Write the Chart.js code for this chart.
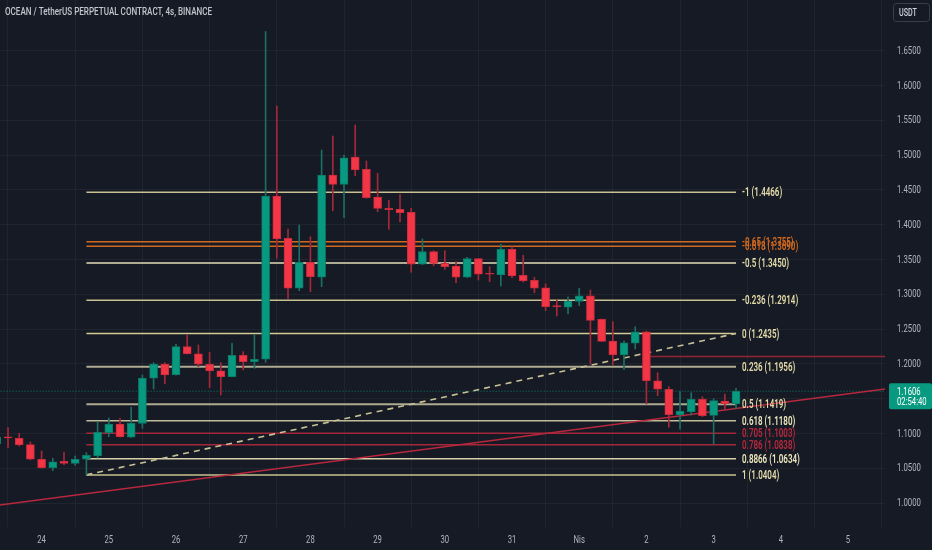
<!DOCTYPE html>
<html><head><meta charset="utf-8">
<script src="https://cdn.jsdelivr.net/npm/chart.js@4.4.0/dist/chart.umd.min.js"></script>
<style>html,body{margin:0;padding:0;background:#161a25;overflow:hidden}#wrap{width:932px;height:550px;position:relative}</style>
</head><body><div id="wrap"><canvas id="c" width="932" height="550"></canvas></div>
<script>
// ---- data ----
const candleIdx = [-4,-3,-2,-1,0,1,2,3,4,5,6,7,8,9,10,11,12,13,14,15,16,17,18,19,20,21,22,23,24,25,26,27,28,29,30,31,32,33,34,35,36,37,38,39,40,41,42,43,44,45,46,47,48,49,50,51,52,53,54,55,56,57,58,59,60,61,62];
const opens  = [1.0848,1.0950,1.0930,1.0838,1.0628,1.0507,1.0599,1.0570,1.0628,1.0675,1.1010,1.1135,1.0945,1.1145,1.1792,1.1997,1.1843,1.2246,1.2145,1.1993,1.1900,1.1815,1.2122,1.2030,1.2065,1.4411,1.3803,1.3085,1.3458,1.3243,1.4713,1.4579,1.4971,1.4794,1.4397,1.4239,1.4220,1.4177,1.3430,1.3614,1.3444,1.3405,1.3243,1.3510,1.3295,1.3276,1.3645,1.3272,1.3200,1.3093,1.2835,1.2812,1.2898,1.2978,1.2639,1.2328,1.2126,1.2295,1.2461,1.1757,1.1634,1.1269,1.1312,1.1490,1.1260,1.1466,1.1422];
const highs  = [1.0962,1.1082,1.1001,1.0876,1.0747,1.0642,1.0733,1.0675,1.0723,1.1168,1.1221,1.1217,1.1375,1.1839,1.2016,1.2016,1.2280,1.2414,1.2270,1.2165,1.2016,1.2295,1.2174,1.2414,1.6772,1.5704,1.3937,1.3994,1.3826,1.5072,1.5273,1.5000,1.5431,1.4914,1.4737,1.4349,1.4430,1.4234,1.3793,1.3625,1.3625,1.3467,1.3530,1.3515,1.3395,1.3717,1.3683,1.3559,1.3243,1.3147,1.2917,1.2964,1.3085,1.3060,1.2645,1.2605,1.2328,1.2533,1.2470,1.1872,1.1671,1.1599,1.1585,1.1527,1.1499,1.1566,1.1648];
const lows   = [1.0830,1.0795,1.0819,1.0620,1.0500,1.0464,1.0550,1.0542,1.0404,1.0647,1.0953,1.0945,1.0940,1.1073,1.1638,1.1714,1.1835,1.2140,1.1958,1.1657,1.1552,1.1810,1.1911,1.1935,1.2022,1.3516,1.2941,1.3050,1.3036,1.3108,1.4200,1.4099,1.4703,1.4380,1.4185,1.3932,1.4037,1.3315,1.3425,1.3409,1.3358,1.3165,1.3240,1.3204,1.3180,1.3118,1.3237,1.3175,1.3022,1.2763,1.2687,1.2716,1.2835,1.1997,1.2318,1.1983,1.1921,1.2213,1.1422,1.1542,1.1088,1.1059,1.1264,1.1240,1.0843,1.1346,1.1355];
const closes = [1.0948,1.0935,1.0833,1.0628,1.0507,1.0593,1.0570,1.0628,1.0685,1.1016,1.1135,1.0953,1.1145,1.1796,1.1997,1.1839,1.2246,1.2145,1.1993,1.1897,1.1815,1.2122,1.2030,1.2065,1.4411,1.3793,1.3085,1.3458,1.3251,1.4713,1.4579,1.4961,1.4784,1.4386,1.4234,1.4214,1.4171,1.3430,1.3614,1.3444,1.3395,1.3243,1.3510,1.3286,1.3286,1.3645,1.3261,1.3190,1.3085,1.2820,1.2820,1.2898,1.2978,1.2625,1.2323,1.2126,1.2303,1.2461,1.1757,1.1634,1.1269,1.1322,1.1490,1.1254,1.1470,1.1422,1.1606];

const dayTickIdx = [0,6,12,18,24,30,36,42,48,54,60,66,72];
const dayLabels  = ['24','25','26','27','28','29','30','31','Nis','2','3','4','5'];
const priceTicks = [1.0000,1.0500,1.1000,1.1500,1.2000,1.2500,1.3000,1.3500,1.4000,1.4500,1.5000,1.5500,1.6000,1.6500];

const fibRatios = ['-1','-0.65','-0.618','-0.5','-0.236','0','0.236','0.5','0.618','0.705','0.786','0.8866','1'];
const fibPrices = [1.4466,1.3755,1.3690,1.3450,1.2914,1.2435,1.1956,1.1419,1.1180,1.1003,1.0838,1.0634,1.0404];
const fibFrom = 4, fibTo = 62;

const dashedFrom = [4, 1.0404];
const dashedTo   = [62, 1.2435];
const trendFrom  = [-4, 0.9966];
const trendTo    = [76, 1.1652];
const hLinePrice = 1.2105, hLineFrom = 54;
const lastPrice = 1.1606;
const countdown = '02:54:40';
const titleText = 'OCEAN / TetherUS PERPETUAL CONTRACT, 4s, BINANCE';
const currency = 'USDT';

// ---- styles ----
const BG = '#161a25';
const UP = '#089981', DOWN = '#f23645';
const UP_WICK = '#1d6e64', DOWN_WICK = '#a3283a';
const UP_EDGE = '#0b7a68', DOWN_EDGE = '#c92c3d';
const FONT = 'Roboto,"Noto Sans",sans-serif';
const fibStyle = {
  '-1':['#c6c092',1.5,'#e4dca8'], '-0.65':['#d2691e',1.5,'#d2691e'], '-0.618':['#d2691e',1.5,'#d2691e'],
  '-0.5':['#aeab92',2,'#e4dca8'], '-0.236':['#c6c092',1.5,'#e4dca8'], '0':['#d2cb95',1.5,'#e4dca8'],
  '0.236':['#aeab92',2,'#e4dca8'], '0.5':['#aeab92',2,'#e4dca8'], '0.618':['#c0bc9a',1.5,'#ece6bc'],
  '0.705':['#a3263a',1.5,'#b8283d'], '0.786':['#a3263a',1.5,'#b8283d'], '0.8866':['#d6d0a8',1.5,'#ece6bc'],
  '1':['#c9c28e',1.5,'#e4dca8']
};

const isUp = closes.map((c,i)=>c>=opens[i]);
const bodyData = candleIdx.map((x,i)=>({x:x, y:[opens[i], closes[i]]}));
const wickData = candleIdx.map((x,i)=>({x:x, y:[lows[i], highs[i]]}));

const datasets = [
  {type:'bar', label:'body', data:bodyData, order:0, grouped:false, barThickness:8, minBarLength:1,
   backgroundColor:isUp.map(u=>u?UP:DOWN), borderColor:isUp.map(u=>u?UP_EDGE:DOWN_EDGE), borderWidth:1, borderSkipped:false},
  {type:'bar', label:'wick', data:wickData, order:1, grouped:false, barThickness:1,
   backgroundColor:isUp.map(u=>u?UP_WICK:DOWN_WICK)},
];
fibRatios.forEach((r,k)=>{
  const st = fibStyle[r];
  datasets.push({type:'line', label:'fib '+r, data:[{x:fibFrom,y:fibPrices[k]},{x:fibTo,y:fibPrices[k]}],
    borderColor:st[0], borderWidth:st[1], pointRadius:0, order:5});
});
datasets.push({type:'line', label:'dashed', data:[{x:dashedFrom[0],y:dashedFrom[1]},{x:dashedTo[0],y:dashedTo[1]}],
  borderColor:'#c8c196', borderWidth:1.6, borderDash:[6,5], pointRadius:0, order:4});
datasets.push({type:'line', label:'trend', data:[{x:trendFrom[0],y:trendFrom[1]},{x:trendTo[0],y:trendTo[1]}],
  borderColor:'#b8283d', borderWidth:1.5, pointRadius:0, order:4});
datasets.push({type:'line', label:'hline', data:[{x:hLineFrom,y:hLinePrice},{x:76,y:hLinePrice}],
  borderColor:'#922434', borderWidth:1.5, pointRadius:0, order:4});
datasets.push({type:'line', label:'last', data:[{x:-5,y:lastPrice},{x:76,y:lastPrice}],
  borderColor:'#0f7e6e', borderWidth:1, borderDash:[1,2], pointRadius:0, order:6});

function txt(c, s, x, y, font, color, sx, align){
  c.save(); c.font = font; c.fillStyle = color; c.textBaseline = 'middle';
  c.textAlign = align || 'left';
  c.translate(x, y); c.scale(sx, 1); c.fillText(s, 0, 0); c.restore();
}

const overlay = {
  id:'overlay',
  beforeDraw(chart){
    const c = chart.ctx; c.save(); c.fillStyle = BG; c.fillRect(0,0,chart.width,chart.height); c.restore();
  },
  afterDraw(chart){
    const c = chart.ctx, xs = chart.scales.x, ys = chart.scales.y;
    // axis labels from the scales
    xs.ticks.forEach((t)=>{
      const k = dayTickIdx.indexOf(t.value);
      if (k>=0) txt(c, dayLabels[k], xs.getPixelForValue(t.value), 540, '11px '+FONT, '#b2b5be', 0.7, 'center');
    });
    ys.ticks.forEach((t)=>{
      txt(c, Number(t.value).toFixed(4), 897, ys.getPixelForValue(t.value)+0.5, '10.5px '+FONT, '#b2b5be', 0.74, 'left');
    });
    // title
    txt(c, titleText, 5, 12.5, '500 10.5px '+FONT, '#c3c6cd', 0.77, 'left');
    // fib labels
    fibRatios.forEach((r,k)=>{
      txt(c, r+' ('+fibPrices[k].toFixed(4)+')', xs.getPixelForValue(fibTo)+6, ys.getPixelForValue(fibPrices[k])+1,
          '600 12.5px '+FONT, fibStyle[r][2], 0.64, 'left');
    });
    // currency box
    c.save();
    c.strokeStyle = '#3a3e4a'; c.lineWidth = 1;
    c.beginPath(); c.roundRect(893.5,3.5,36,18,3); c.stroke();
    c.restore();
    txt(c, currency, 899, 13, '500 10px '+FONT, '#d1d4dc', 0.72, 'left');
    // last price box
    const py = ys.getPixelForValue(lastPrice);
    c.save(); c.fillStyle = UP; c.beginPath(); c.roundRect(889, py-8, 43, 26, 2); c.fill(); c.restore();
    txt(c, lastPrice.toFixed(4), 897, py+1, '11px '+FONT, '#ffffff', 0.7, 'left');
    txt(c, countdown, 897, py+11, '11px '+FONT, '#ffffff', 0.7, 'left');
  }
};

new Chart(document.getElementById('c'), {
  type:'bar',
  data:{datasets},
  options:{
    responsive:false, animation:false, devicePixelRatio:1,
    layout:{padding:0},
    plugins:{legend:{display:false}, tooltip:{enabled:false}},
    scales:{
      x:{type:'linear', position:'bottom', min:-3.714, max:75.3, offset:false,
         border:{display:false},
         grid:{color:'rgba(42,46,57,0.55)', drawTicks:false},
         afterBuildTicks(s){ s.ticks = dayTickIdx.map(v=>({value:v})); },
         afterFit(s){ s.height = 23; s.paddingLeft = 0; s.paddingRight = 0; },
         ticks:{display:false}},
      y:{type:'linear', position:'right', min:1-24/696, max:1+503/696,
         border:{display:false},
         grid:{color:'rgba(42,46,57,0.55)', drawTicks:false},
         afterBuildTicks(s){ s.ticks = priceTicks.map(v=>({value:v})); },
         afterFit(s){ s.width = 47; s.paddingTop = 0; s.paddingBottom = 0; },
         ticks:{display:false}}
    }
  },
  plugins:[overlay]
});
</script></body></html>
